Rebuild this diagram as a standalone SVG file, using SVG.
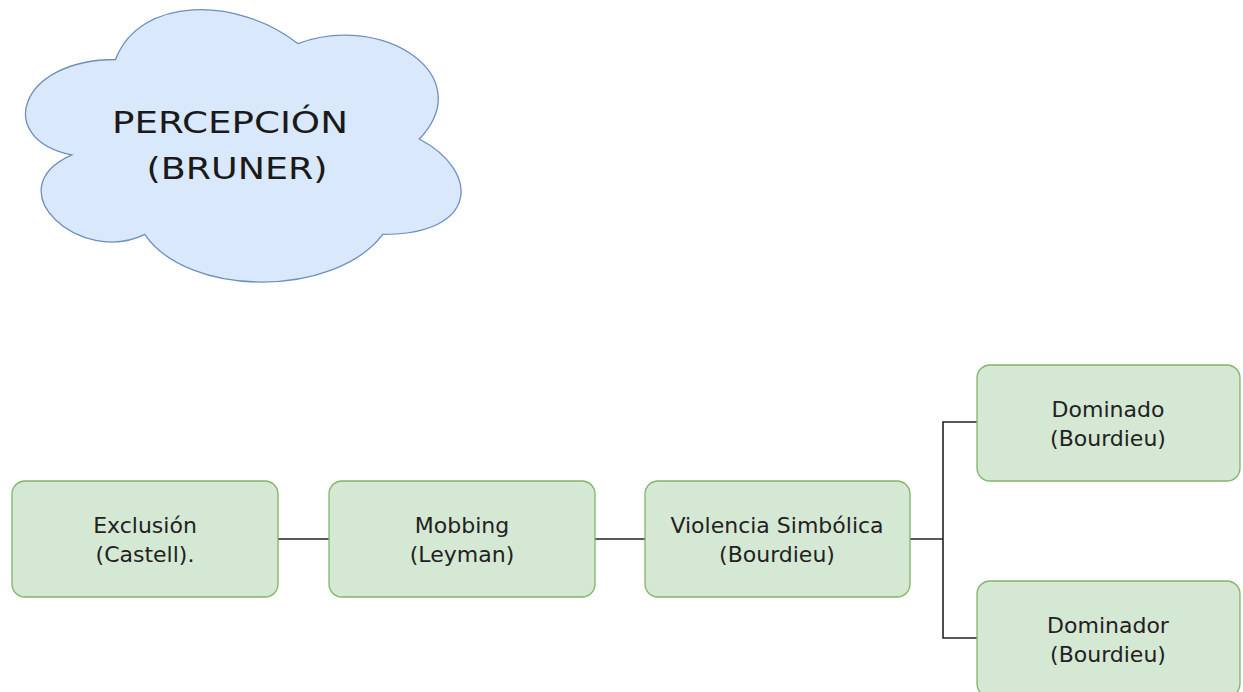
<svg xmlns="http://www.w3.org/2000/svg" width="1243" height="692" viewBox="0 0 1243 692">
  <style>
    .box { fill: #d5e8d4; stroke: #82b366; stroke-width: 1.3; }
    .cloud { fill: #dae8fc; stroke: #6c8ebf; stroke-width: 1.3; }
    .lbl { font-family: "DejaVu Sans", "Liberation Sans", sans-serif; font-size: 22px; fill: #222; text-anchor: middle; }
    .big { font-family: "DejaVu Sans", "Liberation Sans", sans-serif; font-size: 31px; fill: #1a1a1a; text-anchor: middle; }
    .conn { fill: none; stroke: #222; stroke-width: 1.6; }
  </style>
  <rect width="1243" height="692" fill="#ffffff"/>

  <g id="cloud-percepcion">
    <path class="cloud" d="M115.5,59.5 C18.3,59.5 -6,139 71.8,154.9 C-6,189.9 81.5,266.2 144.7,234.4 C188.4,298 334.2,298 382.8,234.4 C480,234.4 480,170.8 419.3,139 C480,75.4 382.8,11.8 297.8,43.6 C237,-4.1 139.8,-4.1 115.5,59.5 Z"/>
    <text class="big" x="230" y="133" textLength="236" lengthAdjust="spacingAndGlyphs">PERCEPCIÓN</text>
    <text class="big" x="237" y="179" textLength="181" lengthAdjust="spacingAndGlyphs">(BRUNER)</text>
  </g>

  <g id="connectors">
    <line class="conn" x1="278" y1="539" x2="329" y2="539"/>
    <line class="conn" x1="595" y1="539" x2="645" y2="539"/>
    <line class="conn" x1="910" y1="539" x2="943" y2="539"/>
    <polyline class="conn" points="977,422 943,422 943,638 977,638"/>
  </g>

  <g id="node-exclusion">
    <rect class="box" x="12" y="481" width="266" height="116" rx="13"/>
    <text class="lbl" x="145" y="533">Exclusión</text>
    <text class="lbl" x="145" y="562">(Castell).</text>
  </g>

  <g id="node-mobbing">
    <rect class="box" x="329" y="481" width="266" height="116" rx="13"/>
    <text class="lbl" x="462" y="533">Mobbing</text>
    <text class="lbl" x="462" y="562">(Leyman)</text>
  </g>

  <g id="node-violencia">
    <rect class="box" x="645" y="481" width="265" height="116" rx="13"/>
    <text class="lbl" x="777" y="533">Violencia Simbólica</text>
    <text class="lbl" x="777" y="562">(Bourdieu)</text>
  </g>

  <g id="node-dominado">
    <rect class="box" x="977" y="365" width="263" height="116" rx="13"/>
    <text class="lbl" x="1108" y="417">Dominado</text>
    <text class="lbl" x="1108" y="446">(Bourdieu)</text>
  </g>

  <g id="node-dominador">
    <rect class="box" x="977" y="581" width="263" height="116" rx="13"/>
    <text class="lbl" x="1108" y="633">Dominador</text>
    <text class="lbl" x="1108" y="662">(Bourdieu)</text>
  </g>
</svg>
